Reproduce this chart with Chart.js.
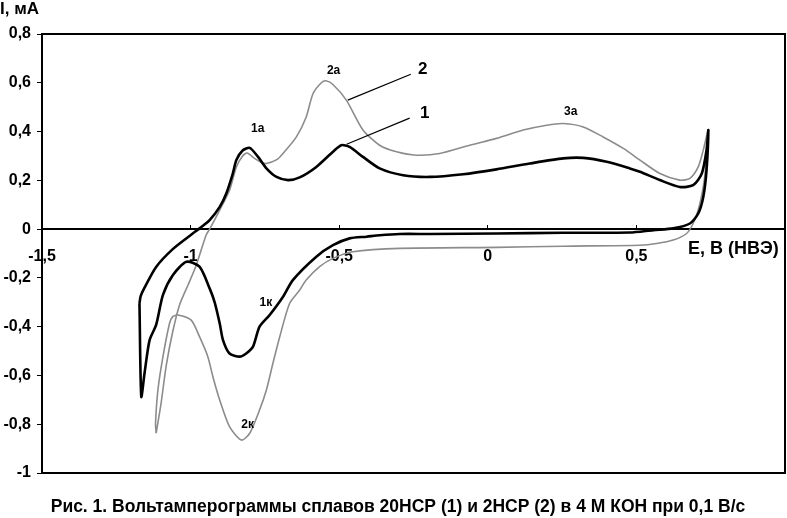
<!DOCTYPE html>
<html>
<head>
<meta charset="utf-8">
<script src="https://cdn.jsdelivr.net/npm/chart.js@4.4.1/dist/chart.umd.min.js"></script>
<style>
    html, body { margin: 0; padding: 0; background: #fff; }
    #wrap { position: relative; width: 787px; height: 518px; }
</style>
</head>
<body>
<div id="wrap"><canvas id="cv"></canvas></div>
<script>
// Potential E (V, НВЭ) and current I (mA), loop order
// Curve 1 - 20НСР (black)
const E1 = [
    -1.172, -1.168, -1.155, -1.116, -1.060, -0.995, -0.970, -0.936, -0.902, -0.880,
    -0.858, -0.846, -0.825, -0.801, -0.773, -0.745, -0.711, -0.672, -0.633, -0.577,
    -0.521, -0.493, -0.465, -0.420, -0.364, -0.285, -0.195, -0.083, 0.029, 0.141,
    0.254, 0.321, 0.400, 0.478, 0.512, 0.579, 0.646, 0.691, 0.720, 0.736,
    0.742,
    0.736, 0.725, 0.708, 0.680, 0.624, 0.557, 0.478, 0.254, 0.029, -0.195,
    -0.296, -0.364, -0.408, -0.465, -0.521, -0.577, -0.656, -0.689, -0.734, -0.768,
    -0.790, -0.813, -0.835, -0.869, -0.891, -0.902, -0.919, -0.936, -0.970, -1.014,
    -1.060, -1.093, -1.116, -1.138, -1.155, -1.166, -1.172
];
const I1 = [
    -0.305, -0.275, -0.240, -0.155, -0.082, -0.020, 0.003, 0.037, 0.091, 0.146,
    0.228, 0.283, 0.322, 0.333, 0.296, 0.249, 0.214, 0.201, 0.212, 0.255,
    0.317, 0.344, 0.337, 0.296, 0.249, 0.221, 0.214, 0.225, 0.245, 0.269,
    0.290, 0.292, 0.276, 0.249, 0.235, 0.201, 0.173, 0.180, 0.228, 0.324,
    0.406,
    0.242, 0.132, 0.064, 0.023, 0.003, -0.004, -0.014, -0.015, -0.018, -0.020,
    -0.020, -0.025, -0.031, -0.038, -0.066, -0.113, -0.209, -0.277, -0.352, -0.400,
    -0.482, -0.510, -0.523, -0.510, -0.455, -0.387, -0.300, -0.243, -0.154, -0.134,
    -0.189, -0.270, -0.393, -0.455, -0.591, -0.687, -0.305
];

// Curve 2 - 2НСР (grey)
const E2 = [
    -1.116, -1.100, -1.082, -1.060, -1.037, -1.009, -0.981, -0.948, -0.936, -0.902,
    -0.869, -0.846, -0.825, -0.810, -0.785, -0.760, -0.745, -0.710, -0.689, -0.644,
    -0.611, -0.588, -0.560, -0.545, -0.522, -0.476, -0.420, -0.364, -0.307, -0.240,
    -0.162, -0.061, 0.029, 0.119, 0.198, 0.254, 0.321, 0.388, 0.456, 0.512,
    0.579, 0.646, 0.680, 0.708, 0.725, 0.742,
    0.733, 0.725, 0.708, 0.691, 0.669, 0.624, 0.568, 0.512, 0.254, 0.029,
    -0.296, -0.454, -0.521, -0.566, -0.611, -0.633, -0.667, -0.700, -0.723, -0.745,
    -0.768, -0.801, -0.829, -0.869, -0.902, -0.925, -0.942, -0.970, -0.998, -1.043,
    -1.060, -1.071, -1.093, -1.110, -1.118, -1.116
];
const I2 = [
    -0.837, -0.720, -0.560, -0.420, -0.310, -0.230, -0.148, -0.025, 0.000, 0.078,
    0.160, 0.255, 0.300, 0.312, 0.290, 0.272, 0.269, 0.285, 0.310, 0.378,
    0.460, 0.556, 0.600, 0.608, 0.594, 0.529, 0.406, 0.344, 0.317, 0.303,
    0.310, 0.344, 0.372, 0.406, 0.426, 0.433, 0.419, 0.378, 0.331, 0.283,
    0.228, 0.201, 0.208, 0.255, 0.324, 0.406,
    0.250, 0.173, 0.078, 0.023, -0.018, -0.045, -0.059, -0.066, -0.070, -0.075,
    -0.079, -0.093, -0.120, -0.154, -0.209, -0.250, -0.305, -0.441, -0.550, -0.660,
    -0.742, -0.837, -0.865, -0.810, -0.701, -0.605, -0.523, -0.441, -0.373, -0.352,
    -0.359, -0.387, -0.523, -0.660, -0.796, -0.837
];

// Axis ticks
const xTicks = [-1.5, -1, -0.5, 0, 0.5, 1];
const yTicks = [-1, -0.8, -0.6, -0.4, -0.2, 0, 0.2, 0.4, 0.6, 0.8];

// Peak labels [text, E, I]
const peakLabels = [
    ['1a', -0.774, 0.410],
    ['2a', -0.519, 0.648],
    ['3a', 0.279, 0.480],
    ['1к', -0.747, -0.303],
    ['2к', -0.808, -0.803]
];
// Curve numbers with leader lines [text, labelE, labelI, fromE, fromI, toE, toI]
const curveLabels = [
    ['2', -0.219, 0.656, -0.471, 0.529, -0.259, 0.635],
    ['1', -0.212, 0.475, -0.475, 0.348, -0.263, 0.455]
];

const yTitle = 'I, мА';
const xTitle = 'E, В (НВЭ)';
const caption = 'Рис. 1. Вольтамперограммы сплавов 20НСР (1) и 2НСР (2) в 4 М КОН при 0,1 В/с';

const FONT = '"Liberation Sans", Arial, sans-serif';

function toPoints(xs, ys) {
    return xs.map((x, i) => ({ x: x, y: ys[i] }));
}

function fmt(v) {
    const r = Math.round(v * 10) / 10;
    return String(r).replace('.', ',');
}

// pick a bold font size so the text spans roughly the given width
function fitFont(ctx, text, width) {
    let size = 10;
    for (let s = 10; s <= 24; s += 0.5) {
        ctx.font = 'bold ' + s + 'px ' + FONT;
        if (ctx.measureText(text).width <= width) size = s;
    }
    ctx.font = 'bold ' + size + 'px ' + FONT;
}

// Frame, titles, peak labels
const extras = {
    id: 'extras',
    afterDraw(chart) {
        const ctx = chart.ctx;
        const a = chart.chartArea;
        const xs = chart.scales.x, ys = chart.scales.y;
        ctx.save();

        // plot frame (top, right, bottom)
        ctx.strokeStyle = '#000';
        ctx.lineWidth = 2;
        ctx.beginPath();
        ctx.moveTo(a.left, a.top);
        ctx.lineTo(a.right, a.top);
        ctx.lineTo(a.right, a.bottom);
        ctx.lineTo(a.left, a.bottom);
        ctx.stroke();

        ctx.fillStyle = '#000';
        ctx.textBaseline = 'middle';

        ctx.textAlign = 'left';
        fitFont(ctx, yTitle, 40);
        ctx.fillText(yTitle, 0, 9);
        fitFont(ctx, xTitle, 92);
        ctx.fillText(xTitle, 688, 249);

        ctx.textAlign = 'center';
        fitFont(ctx, caption, 700);
        ctx.fillText(caption, 398, 507);

        ctx.font = 'bold 12px ' + FONT;
        peakLabels.forEach(([t, e, i]) => {
            ctx.fillText(t, xs.getPixelForValue(e), ys.getPixelForValue(i));
        });

        ctx.lineWidth = 1.2;
        ctx.font = 'bold 17px ' + FONT;
        curveLabels.forEach(([t, le, li, e0, i0, e1, i1]) => {
            ctx.beginPath();
            ctx.moveTo(xs.getPixelForValue(e0), ys.getPixelForValue(i0));
            ctx.lineTo(xs.getPixelForValue(e1), ys.getPixelForValue(i1));
            ctx.stroke();
            ctx.fillText(t, xs.getPixelForValue(le), ys.getPixelForValue(li));
        });

        ctx.restore();
    }
};

const ctx = document.getElementById('cv').getContext('2d');
new Chart(ctx, {
    type: 'scatter',
    data: {
        datasets: [
            {
                label: '1',
                data: toPoints(E1, I1),
                showLine: true,
                borderColor: '#000',
                borderWidth: 2.6,
                pointRadius: 0,
                tension: 0.25,
                order: 1
            },
            {
                label: '2',
                data: toPoints(E2, I2),
                showLine: true,
                borderColor: '#8c8c8c',
                borderWidth: 1.6,
                pointRadius: 0,
                tension: 0.25,
                order: 2
            }
        ]
    },
    options: {
        responsive: true,
        maintainAspectRatio: false,
        animation: false,
        devicePixelRatio: 1,
        layout: { padding: { left: 0, right: 2, top: 34, bottom: 45 } },
        plugins: {
            legend: { display: false },
            tooltip: { enabled: false }
        },
        scales: {
            x: {
                type: 'linear',
                position: { y: 0 },
                min: -1.5,
                max: 1,
                afterBuildTicks: (s) => { s.ticks = xTicks.map(v => ({ value: v })); },
                afterFit: (s) => { s.paddingLeft = 0; s.paddingRight = 0; },
                ticks: {
                    autoSkip: false,
                    maxRotation: 0,
                    padding: 23,
                    color: '#000',
                    font: { family: FONT, size: 16, weight: 'bold' },
                    callback: (v) => (v === 1 ? '' : fmt(v))
                },
                grid: { drawOnChartArea: false, tickLength: -5, color: '#000', lineWidth: 1 },
                border: { color: '#000', width: 2 }
            },
            y: {
                type: 'linear',
                position: 'left',
                min: -1,
                max: 0.8,
                afterBuildTicks: (s) => { s.ticks = yTicks.map(v => ({ value: v })); },
                afterFit: (s) => { s.width = 42; },
                ticks: {
                    padding: 6,
                    color: '#000',
                    font: { family: FONT, size: 16, weight: 'bold' },
                    callback: (v) => fmt(v)
                },
                grid: { drawOnChartArea: false, tickLength: 5, color: '#000', lineWidth: 1 },
                border: { color: '#000', width: 2 }
            }
        }
    },
    plugins: [extras]
});
</script>
</body>
</html>
